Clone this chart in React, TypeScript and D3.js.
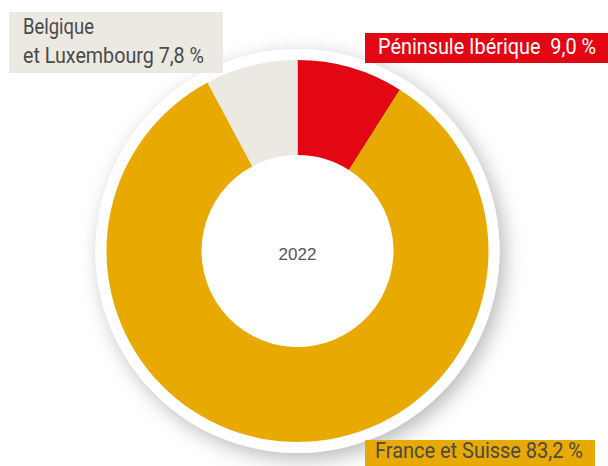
import * as d3 from "d3";

// Parts de chiffre d'affaires 2022 (en %)
const regions = ["Péninsule Ibérique", "France et Suisse", "Belgique et Luxembourg"];
const shares = [9.0, 83.2, 7.8];
const colors = ["#e30613", "#e8a900", "#ece9e3"];
const year = "2022";

const width = 608;
const height = 466;
const cx = 297.5;
const cy = 251;
const outerR = 191;
const innerR = 96;
const ringR = 202;

const font = "'Liberation Sans Narrow', 'Roboto', 'Liberation Sans', sans-serif";

export default function App() {
  const pie = d3.pie<number>().sort(null).value(d => d);
  const arcs = pie(shares);
  const arc = d3.arc<d3.PieArcDatum<number>>().innerRadius(innerR).outerRadius(outerR);

  return (
    <svg
      width={width}
      height={height}
      style={{ position: "absolute", left: 0, top: 0, background: "#fff" }}
    >
      <defs>
        <filter id="shadow" x="-30%" y="-30%" width="160%" height="160%">
          <feDropShadow dx="5" dy="6" stdDeviation="10" floodColor="#000" floodOpacity="0.28" />
        </filter>
      </defs>

      <circle cx={cx} cy={cy} r={ringR} fill="#fff" filter="url(#shadow)" />

      <g transform={`translate(${cx},${cy})`}>
        {arcs.map((a, i) => (
          <path key={regions[i]} d={arc(a) ?? ""} fill={colors[i]} />
        ))}
      </g>

      <text
        x={cx}
        y={260}
        textAnchor="middle"
        fontFamily="'Liberation Sans', Arial, sans-serif"
        fontSize={17}
        fill="#555"
      >
        {year}
      </text>

      {/* Belgique et Luxembourg */}
      <rect x={9} y={12} width={214} height={61} fill={colors[2]} />
      <text x={23} y={34} fontFamily={font} fontSize={22} fill="#4a4a4a"
        textLength={71} lengthAdjust="spacingAndGlyphs">
        Belgique
      </text>
      <text x={23} y={63} fontFamily={font} fontSize={22} fill="#4a4a4a"
        textLength={181} lengthAdjust="spacingAndGlyphs">
        et Luxembourg 7,8 %
      </text>

      {/* Péninsule Ibérique */}
      <rect x={365} y={33} width={243} height={30} fill={colors[0]} />
      <text x={378} y={54} fontFamily={font} fontSize={22} fill="#fff"
        textLength={218} lengthAdjust="spacingAndGlyphs" style={{ whiteSpace: "pre" }}>
        {"Péninsule Ibérique  9,0 %"}
      </text>

      {/* France et Suisse */}
      <rect x={365} y={440} width={230} height={26} fill={colors[1]} />
      <text x={375} y={458} fontFamily={font} fontSize={22} fill="#4a4a4a"
        textLength={208} lengthAdjust="spacingAndGlyphs">
        France et Suisse 83,2 %
      </text>
    </svg>
  );
}
